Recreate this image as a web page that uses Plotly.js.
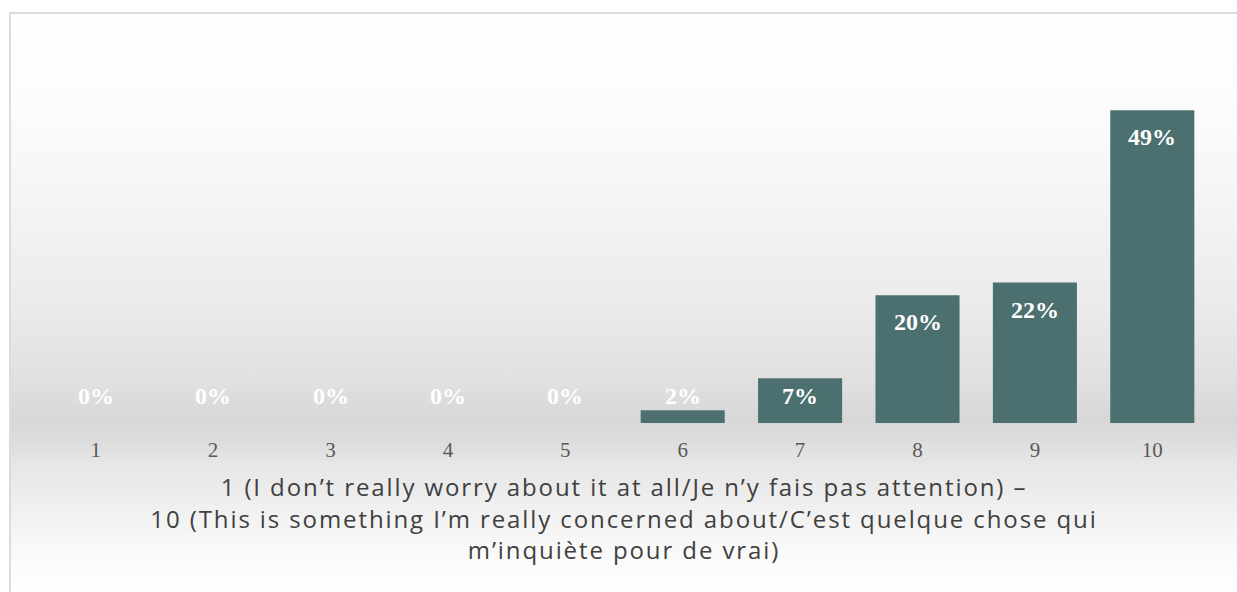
<!DOCTYPE html>
<html>
<head>
<meta charset="utf-8">
<script src="https://cdn.plot.ly/plotly-3.0.1.min.js"></script>
<style>
  html, body { margin: 0; padding: 0; background: #ffffff; width: 1237px; height: 592px; overflow: hidden; }
  #frame {
    position: absolute; left: 9px; top: 12px; width: 1228px; height: 580px;
    border-left: 2px solid #dcdcdc; border-top: 2px solid #dcdcdc;
    background: linear-gradient(to bottom,
      #ffffff 0px, #fcfcfc 90px, #f5f5f5 180px, #ebebeb 290px, #e0e0e0 370px,
      #d7d7d7 405px, #dcdcdc 425px, #e6e6e6 450px, #efefef 490px, #f8f8f8 530px, #fdfdfd 560px, #ffffff 580px);
  }
  #chart { position: absolute; left: 0; top: 0; width: 1226px; height: 578px; }
  #chart .xtitle { letter-spacing: 1.9px; }
</style>
</head>
<body>
<div id="frame"><div id="chart"></div></div>
<script>
const categories = ['1', '2', '3', '4', '5', '6', '7', '8', '9', '10'];
const values = [0, 0, 0, 0, 0, 2, 7, 20, 22, 49];
const valueLabels = ['0%', '0%', '0%', '0%', '0%', '2%', '7%', '20%', '22%', '49%'];
const axisTitle = '1 (I don\u2019t really worry about it at all/Je n\u2019y fais pas attention) \u2013<br>10 (This is something I\u2019m really concerned about/C\u2019est quelque chose qui<br>m\u2019inqui\u00e8te pour de vrai)';

const yMax = 60;
const labelInset = 4.25; // label drop below bar top, in value units

const trace = {
  type: 'bar',
  x: categories,
  y: values,
  marker: { color: '#4c7070', line: { width: 0 } },
  hoverinfo: 'skip'
};

const annotations = categories.map((c, i) => ({
  x: i,
  y: Math.max(values[i] - labelInset, labelInset),
  xref: 'x', yref: 'y',
  text: valueLabels[i],
  showarrow: false,
  font: { family: 'Liberation Serif, Times New Roman, serif', size: 24, color: '#ffffff', weight: 'bold' },
  yanchor: 'middle'
}));

const layout = {
  width: 1226, height: 578,
  margin: { l: 26, r: 26, t: 26, b: 169 },
  paper_bgcolor: 'rgba(0,0,0,0)',
  plot_bgcolor: 'rgba(0,0,0,0)',
  bargap: 0.284,
  showlegend: false,
  xaxis: {
    type: 'category',
    range: [-0.5, categories.length - 0.5],
    showgrid: false, zeroline: false, showline: false, ticks: '',
    ticklabelstandoff: 12,
    tickfont: { family: 'Liberation Serif, Times New Roman, serif', size: 21, color: '#595959' },
    title: {
      text: axisTitle,
      standoff: 18,
      font: { family: 'Open Sans, sans-serif', size: 24, color: '#404040' }
    }
  },
  yaxis: {
    range: [0, yMax],
    visible: false,
    showgrid: false, zeroline: false
  },
  annotations: annotations
};

Plotly.newPlot('chart', [trace], layout, { displayModeBar: false, staticPlot: true });
</script>
</body>
</html>
